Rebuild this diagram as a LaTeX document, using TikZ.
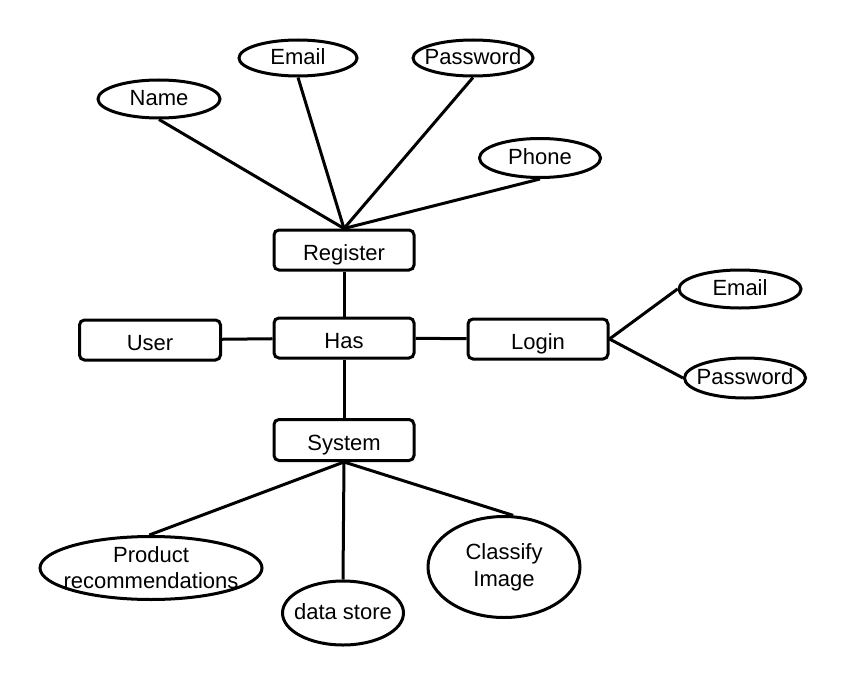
\documentclass[tikz,border=0pt]{standalone}
\usepackage{fontspec}
\setmainfont{Liberation Sans}
\usetikzlibrary{shapes.geometric}
\begin{document}
\begin{tikzpicture}[x=1pt,y=-1pt,
  every node/.style={font=\fontsize{22}{26}\selectfont},
  entity/.style={draw, line width=3pt, rounded corners=5pt, inner sep=0pt,
    text height=21.5pt, text depth=0pt, minimum width=140pt, minimum height=40pt},
  attr/.style={draw, ellipse, line width=3pt, inner xsep=-30pt, inner ysep=-12pt,
    text height=16pt, text depth=4pt},
  attr2/.style={draw, ellipse, line width=3pt, inner xsep=-40pt, inner ysep=-20pt, align=center},
  link/.style={line width=3pt}]
\useasboundingbox (0,0) rectangle (846,685);

% entities
\node[entity] (register) at (344,250) {Register};
\node[entity] (has)      at (344,338) {Has};
\node[entity, minimum width=141pt] (user) at (150,340) {User};
\node[entity] (login)    at (538,339) {Login};
\node[entity, minimum height=41pt] (system) at (344,440) {System};

% attributes of Register
\node[attr, minimum width=122pt, minimum height=38pt] (name)   at (159,99)  {Name};
\node[attr, minimum width=118pt, minimum height=36pt] (remail) at (298,58)  {Email};
\node[attr, minimum width=120pt, minimum height=36pt] (rpass)  at (473,58)  {Password};
\node[attr, minimum width=121pt, minimum height=39pt] (phone)  at (540,158) {Phone};

% attributes of Login
\node[attr, minimum width=122pt, minimum height=38pt] (lemail) at (740,289) {Email};
\node[attr, minimum width=121pt, minimum height=40pt] (lpass)  at (745,378) {Password};

% attributes of System
\node[attr2, minimum width=222pt, minimum height=63pt] (product) at (151,568) {Product\\recommendations};
\node[attr, minimum width=121pt, minimum height=64pt] (store) at (343,613) {data store};
\node[attr2, minimum width=152pt, minimum height=101pt, font=\fontsize{22}{27}\selectfont] (classify) at (504,567) {Classify\\Image};

% connectors
\draw[link] (name.south)   -- (register.north);
\draw[link] (remail.south) -- (register.north);
\draw[link] (rpass.south)  -- (register.north);
\draw[link] (phone.south)  -- (register.north);
\draw[link] (register) -- (has);
\draw[link] (user) -- (has);
\draw[link] (has) -- (login);
\draw[link] (login.east) -- (lemail.west);
\draw[link] (login.east) -- (lpass.west);
\draw[link] (has) -- (system);
\draw[link] (system.south) -- (product.93);
\draw[link] (system.south) -- (store.north);
\draw[link] (system.south) -- (classify.80);
\end{tikzpicture}
\end{document}
